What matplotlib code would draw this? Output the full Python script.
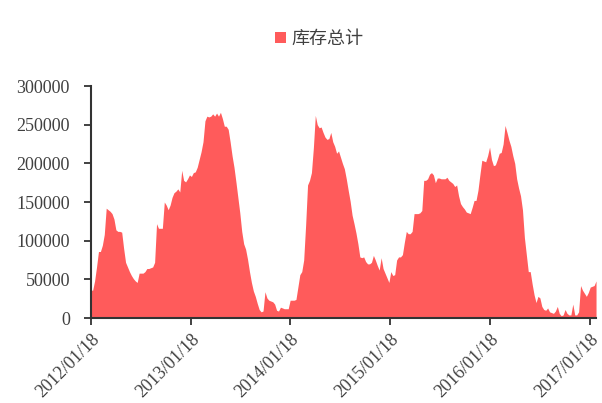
#库存总计 weekly area chart
import pandas as pd
import matplotlib
matplotlib.use('Agg')
import matplotlib.pyplot as plt

#weekly values, one list per year
y2012 = [36000, 36000, 48000, 66000, 86000, 86000, 94000, 108000, 142000, 140000,
         138000, 135000, 128000, 114000, 112000, 112000, 111000, 90000, 72000, 66000,
         60000, 55000, 51000, 48000, 46000, 58000, 58000, 58000, 60000, 64000,
         64000, 65000, 66000, 72000, 122000, 116000, 116000, 116000, 150000, 146000,
         140000, 146000, 156000, 162000, 164000, 167000, 163000, 191000, 178000, 176000,
         180000, 185000, 183000]
y2013 = [188000, 189000, 195000, 205000, 215000, 228000, 255000, 261000, 260000, 261000,
         264000, 261000, 265000, 261000, 266000, 258000, 248000, 248000, 244000, 228000,
         210000, 195000, 176000, 156000, 136000, 112000, 96000, 89000, 76000, 60000,
         46000, 35000, 28000, 19000, 11000, 8000, 9000, 34000, 26000, 23000,
         22000, 21000, 18000, 10000, 9000, 14000, 13000, 12000, 12000, 12000,
         23000, 23000]
y2014 = [23000, 24000, 40000, 56000, 60000, 75000, 120000, 172000, 178000, 188000,
         220000, 262000, 250000, 246000, 247000, 240000, 234000, 231000, 232000, 240000,
         228000, 222000, 213000, 216000, 208000, 200000, 193000, 180000, 165000, 151000,
         133000, 122000, 110000, 96000, 79000, 78000, 79000, 73000, 70000, 70000,
         72000, 81000, 75000, 68000, 62000, 78000, 64000, 58000, 52000, 46000,
         60000, 55000]
y2015 = [56000, 75000, 79000, 79000, 82000, 98000, 112000, 109000, 109000, 112000,
         135000, 135000, 135000, 136000, 139000, 178000, 178000, 180000, 186000, 188000,
         185000, 175000, 181000, 181000, 180000, 180000, 180000, 182000, 178000, 176000,
         174000, 170000, 172000, 158000, 148000, 144000, 141000, 137000, 136000, 135000,
         143000, 152000, 152000, 165000, 185000, 204000, 203000, 202000, 210000, 221000,
         205000, 197000]
y2016 = [198000, 205000, 213000, 214000, 225000, 249000, 240000, 230000, 222000, 210000,
         200000, 180000, 168000, 158000, 140000, 104000, 82000, 60000, 60000, 44000,
         30000, 20000, 28000, 26000, 15000, 11000, 10000, 13000, 8000, 7000,
         6000, 9000, 15000, 6000, 3000, 4000, 11000, 6000, 4000, 4000,
         18000, 4000, 4000, 8000, 42000, 36000, 32000, 28000, 33000, 40000,
         41000, 42000, 48000]

start = '2012-01-18'
end = '2017-02-09'
tick_dates = ['2012-01-18', '2013-01-18', '2014-01-18', '2015-01-18', '2016-01-18', '2017-01-18']
tick_labels = ['2012/01/18', '2013/01/18', '2014/01/18', '2015/01/18', '2016/01/18', '2017/01/18']
y_ticks = [0, 50000, 100000, 150000, 200000, 250000, 300000]

values = y2012 + y2013 + y2014 + y2015 + y2016
dates = pd.date_range(start, end, periods=len(values))
data = pd.DataFrame({'date': dates, 'stock': values})

plt.rcParams['font.family'] = ['Liberation Serif', 'DejaVu Serif']
red = '#FF5B5B'
txt = '#404040'

fig = plt.figure(figsize=(6.02, 4.03), dpi=100)
ax = fig.add_axes([0.1507, 0.2109, 0.8394, 0.5757])
ax.fill_between(data['date'], 0, data['stock'], color=red, linewidth=0, label='库存总计')

ax.set_ylim(0, 300000)
ax.set_yticks(y_ticks)
ax.set_xlim(pd.Timestamp(start), pd.Timestamp(end))
ax.set_xticks(pd.to_datetime(tick_dates))
ax.set_xticklabels(tick_labels, rotation=45, ha='right', rotation_mode='anchor')

for s in ['top', 'right']:
    ax.spines[s].set_visible(False)
for s in ['left', 'bottom']:
    ax.spines[s].set_linewidth(1.5)
    ax.spines[s].set_color('#333333')
ax.tick_params(axis='both', direction='out', length=5, width=1.3, color='#333333',
               labelsize=13, labelcolor=txt)
ax.tick_params(axis='y', pad=10)
ax.tick_params(axis='x', pad=4)

leg = fig.legend(loc='center', bbox_to_anchor=(0.53, 0.903), frameon=False,
                 prop={'family': ['Noto Sans CJK SC', 'DejaVu Sans'], 'size': 13},
                 handlelength=0.6, handleheight=0.6, handletextpad=0.3)
for t in leg.get_texts():
    t.set_color(txt)

fig.savefig('out.png', dpi=100)
